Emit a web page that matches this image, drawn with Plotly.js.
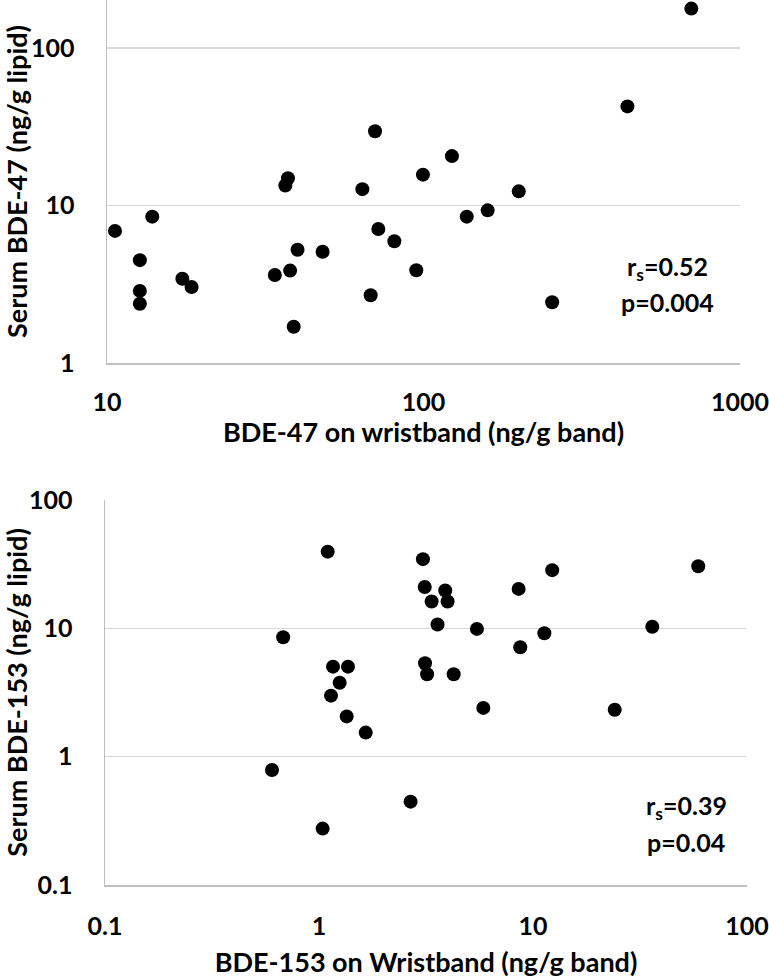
<!DOCTYPE html>
<html>
<head>
<meta charset="utf-8">
<script src="https://cdn.plot.ly/plotly-3.0.1.min.js"></script>
<style>
html,body{margin:0;padding:0;background:#fff;}
#chart{width:769px;height:978px;}
</style>
</head>
<body>
<div id="chart"></div>
<script>
// Top panel: BDE-47
const bde47Wristband = [10.6, 13.9, 12.7, 12.7, 12.7, 17.3, 18.5, 33.9, 37.9, 40.0, 48.0, 36.6, 37.3, 38.9, 64.1, 70.3, 68.1, 72.0, 80.9, 94.9, 99.6, 123, 137, 159.5, 200, 255, 441, 702];
const bde47Serum     = [6.9, 8.5, 4.5, 2.87, 2.38, 3.43, 3.04, 3.62, 3.86, 5.24, 5.09, 13.4, 14.9, 1.70, 12.7, 29.6, 2.69, 7.1, 5.93, 3.88, 15.7, 20.6, 8.5, 9.32, 12.3, 2.43, 42.6, 178];

// Bottom panel: BDE-153
const bde153Wristband = [1.098, 0.68, 1.163, 1.366, 1.249, 1.138, 1.347, 1.653, 0.603, 1.04, 3.06, 3.12, 3.89, 3.36, 3.99, 3.58, 5.47, 8.57, 12.3, 59.2, 11.3, 8.72, 36.1, 3.13, 3.20, 4.26, 5.86, 24.1, 2.68];
const bde153Serum     = [39.6, 8.52, 5.03, 5.03, 3.77, 2.99, 2.06, 1.54, 0.788, 0.275, 34.6, 21.0, 19.7, 16.2, 16.2, 10.7, 9.9, 20.3, 28.4, 30.5, 9.16, 7.12, 10.3, 5.35, 4.39, 4.39, 2.40, 2.32, 0.446];

// Tick labels
const topXTicks = [10, 100, 1000];
const topXTickText = ["10", "100", "1000"];
const topYTicks = [1, 10, 100];
const topYTickText = ["1", "10", "100"];
const botXTicks = [0.1, 1, 10, 100];
const botXTickText = ["0.1", "1", "10", "100"];
const botYTicks = [0.1, 1, 10, 100];
const botYTickText = ["0.1", "1", "10", "100"];

const W = 769, H = 978;
const FONT = 'Lato, "Open Sans", sans-serif';
const tickFont = {family: FONT, size: 25, color: '#000', weight: 'bold'};
const titleFont = {family: FONT, size: 27, color: '#000', weight: 'bold'};
const annFont = {family: FONT, size: 25, color: '#000', weight: 'bold'};
const AXIS_COLOR = '#bfbfbf';
const GRID_COLOR = '#d9d9d9';

const marker = {color: '#000', size: 14, line: {width: 0}};

const traces = [
  {x: bde47Wristband, y: bde47Serum, type: 'scatter', mode: 'markers', marker: marker, xaxis: 'x', yaxis: 'y', hoverinfo: 'x+y'},
  {x: bde153Wristband, y: bde153Serum, type: 'scatter', mode: 'markers', marker: marker, xaxis: 'x2', yaxis: 'y2', hoverinfo: 'x+y'}
];

function px2fx(p){ return p / W; }
function py2fy(p){ return 1 - p / H; }

const layout = {
  width: W, height: H,
  margin: {l: 0, r: 0, t: 0, b: 0},
  paper_bgcolor: '#fff',
  plot_bgcolor: '#fff',
  showlegend: false,
  font: {family: FONT, color: '#000'},
  xaxis: {
    type: 'log', range: [1, 3.0001], domain: [px2fx(107), px2fx(740)],
    anchor: 'y', showgrid: false, zeroline: false,
    showline: true, linecolor: AXIS_COLOR, linewidth: 1.5,
    tickmode: 'array', tickvals: topXTicks, ticktext: topXTickText,
    ticks: '', tickfont: tickFont, ticklabelstandoff: 16, ticklabeloverflow: 'allow',
    title: {text: 'BDE-47 on wristband (ng/g band)', font: titleFont, standoff: 7},
    automargin: false
  },
  yaxis: {
    type: 'log', range: [0, 2.305], domain: [py2fy(363), py2fy(0)],
    anchor: 'x', showgrid: true, gridcolor: GRID_COLOR, gridwidth: 1.5, zeroline: false,
    showline: true, linecolor: AXIS_COLOR, linewidth: 1.5,
    tickmode: 'array', tickvals: topYTicks, ticktext: topYTickText,
    ticks: '', tickfont: tickFont, ticklabelstandoff: 26, ticklabeloverflow: 'allow',
    title: {text: 'Serum BDE-47 (ng/g lipid)', font: titleFont, standoff: 6},
    automargin: false
  },
  xaxis2: {
    type: 'log', range: [-1, 2.0001], domain: [px2fx(105), px2fx(747)],
    anchor: 'y2', showgrid: false, zeroline: false,
    showline: true, linecolor: AXIS_COLOR, linewidth: 1.5,
    tickmode: 'array', tickvals: botXTicks, ticktext: botXTickText,
    ticks: '', tickfont: tickFont, ticklabelstandoff: 18, ticklabeloverflow: 'allow',
    title: {text: 'BDE-153 on Wristband (ng/g band)', font: titleFont, standoff: 14},
    automargin: false
  },
  yaxis2: {
    type: 'log', range: [-1, 2.0001], domain: [py2fy(885), py2fy(500)],
    anchor: 'x2', showgrid: true, gridcolor: GRID_COLOR, gridwidth: 1.5, zeroline: false,
    showline: true, linecolor: AXIS_COLOR, linewidth: 1.5,
    tickmode: 'array', tickvals: botYTicks, ticktext: botYTickText,
    ticks: '', tickfont: tickFont, ticklabelstandoff: 26, ticklabeloverflow: 'allow',
    title: {text: 'Serum BDE-153 (ng/g lipid)', font: titleFont, standoff: 6},
    automargin: false
  },
  annotations: [
    {xref: 'paper', yref: 'paper', x: px2fx(667), y: py2fy(268), xanchor: 'center', yanchor: 'middle',
     text: 'r<sub>s</sub>=0.52', showarrow: false, font: annFont},
    {xref: 'paper', yref: 'paper', x: px2fx(667), y: py2fy(302), xanchor: 'center', yanchor: 'middle',
     text: 'p=0.004', showarrow: false, font: annFont},
    {xref: 'paper', yref: 'paper', x: px2fx(686), y: py2fy(807), xanchor: 'center', yanchor: 'middle',
     text: 'r<sub>s</sub>=0.39', showarrow: false, font: annFont},
    {xref: 'paper', yref: 'paper', x: px2fx(686), y: py2fy(842), xanchor: 'center', yanchor: 'middle',
     text: 'p=0.04', showarrow: false, font: annFont}
  ]
};

Plotly.newPlot('chart', traces, layout, {staticPlot: true, displayModeBar: false});
</script>
</body>
</html>
